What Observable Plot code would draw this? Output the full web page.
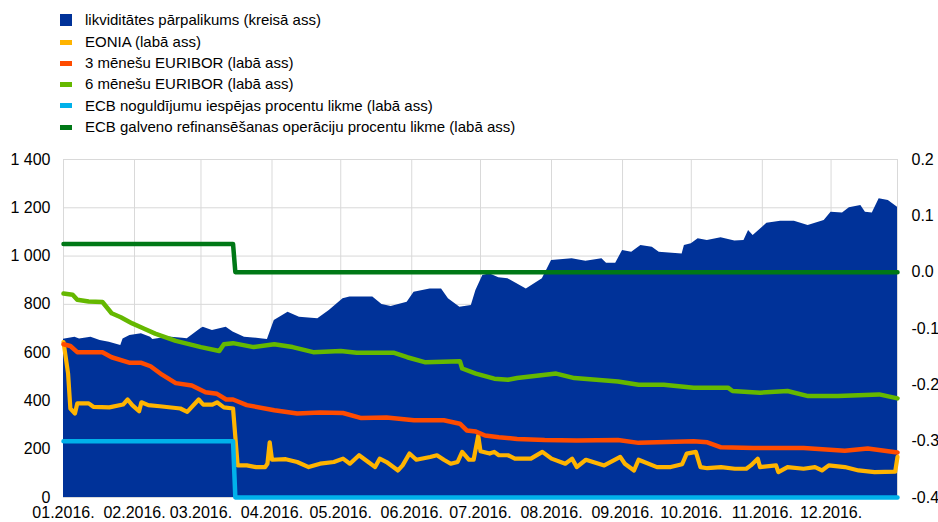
<!DOCTYPE html>
<html>
<head>
<meta charset="utf-8">
<script src="https://cdn.jsdelivr.net/npm/d3@7"></script>
<script src="https://cdn.jsdelivr.net/npm/@observablehq/plot@0.6"></script>
<style>
  body { margin: 0; background: #fff; font-family: "Liberation Sans", Arial, sans-serif; }
  #legend { position: relative; width: 938px; height: 140px; font-size: 15px; color: #000; }
  .row { position: absolute; left: 0; height: 18px; line-height: 18px; }
  .sw { position: absolute; left: 60px; width: 12px; }
  .lbl { position: absolute; left: 85px; white-space: nowrap; top: 0; }
</style>
</head>
<body>
<div id="legend"></div>
<div id="chart"></div>
<script>
// ---- data ----
const liqDates = ["2016-01-01","2016-01-06","2016-01-08","2016-01-13","2016-01-17","2016-01-21","2016-01-26","2016-01-27","2016-01-30","2016-02-04","2016-02-08","2016-02-09","2016-02-16","2016-02-22","2016-02-24","2016-03-01","2016-03-02","2016-03-06","2016-03-12","2016-03-15","2016-03-20","2016-03-28","2016-03-30","2016-04-02","2016-04-08","2016-04-13","2016-04-21","2016-04-26","2016-05-02","2016-05-05","2016-05-15","2016-05-19","2016-05-23","2016-05-30","2016-06-02","2016-06-09","2016-06-14","2016-06-17","2016-06-22","2016-06-27","2016-06-29","2016-07-02","2016-07-05","2016-07-09","2016-07-13","2016-07-21","2016-07-28","2016-08-01","2016-08-10","2016-08-16","2016-08-23","2016-08-25","2016-08-29","2016-09-01","2016-09-05","2016-09-09","2016-09-14","2016-09-17","2016-09-27","2016-09-28","2016-10-01","2016-10-04","2016-10-08","2016-10-14","2016-10-20","2016-10-24","2016-10-26","2016-10-28","2016-11-03","2016-11-09","2016-11-15","2016-11-21","2016-11-28","2016-12-01","2016-12-06","2016-12-09","2016-12-14","2016-12-16","2016-12-19","2016-12-22","2016-12-26","2016-12-30"];
const liqValues = [655,664,657,664,650,643,630,657,671,678,664,654,665,660,658,700,705,692,705,685,664,657,654,733,767,747,740,775,823,830,830,799,791,809,850,864,864,823,788,795,857,920,927,910,906,864,906,982,989,979,989,970,970,1023,1016,1044,1037,1016,1009,1044,1051,1072,1064,1076,1062,1064,1106,1085,1136,1144,1144,1127,1147,1182,1178,1200,1209,1182,1178,1237,1230,1202];

const eoniaDates = ["2016-01-01","2016-01-03","2016-01-04","2016-01-06","2016-01-07","2016-01-12","2016-01-14","2016-01-21","2016-01-27","2016-01-29","2016-01-31","2016-02-03","2016-02-04","2016-02-07","2016-02-12","2016-02-21","2016-02-24","2016-02-29","2016-03-02","2016-03-06","2016-03-08","2016-03-11","2016-03-15","2016-03-17","2016-03-21","2016-03-25","2016-03-29","2016-03-30","2016-03-31","2016-04-01","2016-04-07","2016-04-12","2016-04-17","2016-04-22","2016-04-28","2016-05-02","2016-05-05","2016-05-09","2016-05-13","2016-05-16","2016-05-18","2016-05-21","2016-05-26","2016-05-28","2016-05-31","2016-06-03","2016-06-09","2016-06-12","2016-06-15","2016-06-18","2016-06-21","2016-06-23","2016-06-26","2016-06-28","2016-06-30","2016-07-01","2016-07-05","2016-07-07","2016-07-09","2016-07-13","2016-07-16","2016-07-23","2016-07-28","2016-08-01","2016-08-07","2016-08-10","2016-08-12","2016-08-16","2016-08-24","2016-08-31","2016-09-02","2016-09-06","2016-09-08","2016-09-16","2016-09-22","2016-09-27","2016-09-29","2016-10-03","2016-10-05","2016-10-08","2016-10-14","2016-10-20","2016-10-25","2016-10-27","2016-10-30","2016-10-31","2016-11-07","2016-11-08","2016-11-12","2016-11-19","2016-11-24","2016-11-27","2016-11-30","2016-12-07","2016-12-13","2016-12-20","2016-12-29","2016-12-30"];
const eoniaValues = [-0.124,-0.180,-0.242,-0.251,-0.233,-0.233,-0.239,-0.240,-0.235,-0.226,-0.236,-0.247,-0.231,-0.236,-0.238,-0.242,-0.248,-0.226,-0.235,-0.235,-0.231,-0.240,-0.242,-0.343,-0.343,-0.346,-0.346,-0.340,-0.302,-0.333,-0.332,-0.337,-0.346,-0.340,-0.337,-0.331,-0.340,-0.325,-0.337,-0.346,-0.331,-0.337,-0.352,-0.343,-0.322,-0.333,-0.328,-0.325,-0.333,-0.340,-0.337,-0.319,-0.333,-0.333,-0.290,-0.318,-0.322,-0.319,-0.325,-0.325,-0.331,-0.331,-0.319,-0.331,-0.340,-0.331,-0.346,-0.333,-0.343,-0.328,-0.340,-0.352,-0.333,-0.346,-0.346,-0.341,-0.322,-0.319,-0.346,-0.348,-0.346,-0.349,-0.349,-0.343,-0.331,-0.346,-0.343,-0.355,-0.346,-0.349,-0.346,-0.352,-0.343,-0.346,-0.352,-0.355,-0.354,-0.328];

const eur3Dates = ["2016-01-01","2016-01-04","2016-01-07","2016-01-18","2016-01-22","2016-01-30","2016-02-04","2016-02-08","2016-02-13","2016-02-19","2016-02-26","2016-03-03","2016-03-08","2016-03-12","2016-03-15","2016-03-21","2016-04-02","2016-04-12","2016-04-22","2016-05-02","2016-05-10","2016-05-21","2016-06-02","2016-06-15","2016-06-22","2016-06-25","2016-06-29","2016-07-03","2016-07-09","2016-07-17","2016-07-29","2016-08-12","2016-08-30","2016-09-08","2016-10-02","2016-10-08","2016-10-14","2016-10-28","2016-11-19","2016-12-07","2016-12-17","2016-12-30"];
const eur3Values = [-0.128,-0.131,-0.142,-0.142,-0.151,-0.161,-0.161,-0.167,-0.182,-0.197,-0.201,-0.213,-0.216,-0.226,-0.226,-0.236,-0.245,-0.251,-0.249,-0.250,-0.259,-0.258,-0.263,-0.263,-0.269,-0.281,-0.283,-0.290,-0.293,-0.296,-0.298,-0.299,-0.298,-0.303,-0.300,-0.302,-0.311,-0.312,-0.312,-0.317,-0.313,-0.320];

const eur6Dates = ["2016-01-01","2016-01-05","2016-01-07","2016-01-12","2016-01-18","2016-01-22","2016-01-26","2016-01-31","2016-02-05","2016-02-10","2016-02-19","2016-03-01","2016-03-09","2016-03-11","2016-03-15","2016-03-24","2016-04-02","2016-04-10","2016-04-19","2016-05-01","2016-05-08","2016-05-24","2016-05-30","2016-06-07","2016-06-22","2016-06-23","2016-06-29","2016-07-07","2016-07-13","2016-07-17","2016-08-03","2016-08-11","2016-08-30","2016-09-08","2016-09-19","2016-10-02","2016-10-17","2016-10-19","2016-10-31","2016-11-12","2016-11-21","2016-12-04","2016-12-22","2016-12-30"];
const eur6Values = [-0.038,-0.040,-0.049,-0.052,-0.053,-0.073,-0.080,-0.091,-0.100,-0.109,-0.122,-0.133,-0.140,-0.128,-0.126,-0.133,-0.128,-0.133,-0.142,-0.140,-0.143,-0.143,-0.151,-0.160,-0.158,-0.171,-0.180,-0.189,-0.191,-0.188,-0.180,-0.188,-0.194,-0.200,-0.200,-0.205,-0.205,-0.211,-0.214,-0.211,-0.220,-0.220,-0.217,-0.224];

const rateDates = ["2016-01-01","2016-03-15","2016-03-16","2016-12-30"];
const dfValues  = [-0.30,-0.30,-0.40,-0.40];
const mroValues = [0.05,0.05,0.00,0.00];

const monthTicks = ["2016-01-01","2016-02-01","2016-03-01","2016-04-01","2016-05-01","2016-06-01","2016-07-01","2016-08-01","2016-09-01","2016-10-01","2016-11-01","2016-12-01"];
const leftTicks = [0,200,400,600,800,1000,1200,1400];
const rightTicks = [-0.4,-0.3,-0.2,-0.1,0.0,0.1,0.2];

const seriesNames = [
  "likviditātes pārpalikums (kreisā ass)",
  "EONIA (labā ass)",
  "3 mēnešu EURIBOR (labā ass)",
  "6 mēnešu EURIBOR (labā ass)",
  "ECB noguldījumu iespējas procentu likme (labā ass)",
  "ECB galveno refinansēšanas operāciju procentu likme (labā ass)"
];
const seriesColors = ["#003299","#FFB400","#FF4B00","#65B800","#00B1EA","#007816"];

// ---- helpers ----
const parse = s => new Date(s + "T00:00:00Z");
const endDate = parse("2016-12-30");
const rMin = -0.4, rMax = 0.2, lMax = 1400;
const toLeft = v => (v - rMin) / (rMax - rMin) * lMax;
const zip = (ds, vs) => ds.map((d, i) => ({date: parse(d), value: vs[i]}));

const liq = zip(liqDates, liqValues);
const eonia = zip(eoniaDates, eoniaValues);
const eur3 = zip(eur3Dates, eur3Values);
const eur6 = zip(eur6Dates, eur6Values);
const df = zip(rateDates, dfValues);
const mro = zip(rateDates, mroValues);

const fmtLeft = d => d >= 1000 ? Math.floor(d / 1000) + " " + String(d % 1000).padStart(3, "0") : String(d);

// ---- legend ----
const legend = document.getElementById("legend");
const centers = [20, 42, 63, 84, 105.5, 127];
seriesNames.forEach((name, i) => {
  const row = document.createElement("div");
  row.className = "row";
  row.style.top = (centers[i] - 9) + "px";
  row.style.width = "938px";
  const sw = document.createElement("div");
  sw.className = "sw";
  sw.style.background = seriesColors[i];
  if (i === 0) { sw.style.height = "12px"; sw.style.top = "3px"; }
  else { sw.style.height = "5px"; sw.style.top = "6.5px"; }
  const lbl = document.createElement("div");
  lbl.className = "lbl";
  lbl.textContent = name;
  row.appendChild(sw);
  row.appendChild(lbl);
  legend.appendChild(row);
});

// ---- chart ----
const lineOpts = (color, w) => ({x: "date", y: d => toLeft(d.value), stroke: color, strokeWidth: w, strokeLinejoin: "round", strokeLinecap: "round"});

const chart = Plot.plot({
  width: 938,
  height: 382,
  marginTop: 19,
  marginBottom: 25,
  marginLeft: 63,
  marginRight: 41,
  style: {fontFamily: "'Liberation Sans', Arial, sans-serif", fontSize: "16px", color: "#000", background: "#fff"},
  x: {type: "utc", domain: [parse("2016-01-01"), endDate]},
  y: {domain: [0, lMax]},
  marks: [
    Plot.gridX(monthTicks.map(parse).concat([endDate]), {stroke: "#d9d9d9", strokeOpacity: 1, strokeWidth: 1}),
    Plot.gridY(leftTicks, {stroke: "#d9d9d9", strokeOpacity: 1, strokeWidth: 1}),
    Plot.areaY(liq, {x: "date", y: "value", fill: seriesColors[0]}),
    Plot.line(eonia, lineOpts(seriesColors[1], 4.2)),
    Plot.line(eur3, lineOpts(seriesColors[2], 4.5)),
    Plot.line(eur6, lineOpts(seriesColors[3], 4.5)),
    Plot.line(df, lineOpts(seriesColors[4], 4.5)),
    Plot.line(mro, lineOpts(seriesColors[5], 4.5)),
    Plot.axisX(monthTicks.map(parse), {tickSize: 0, tickPadding: 9, tickFormat: d3.utcFormat("%m.%Y."), label: null}),
    Plot.axisY(leftTicks, {anchor: "left", tickSize: 0, tickPadding: 13, tickFormat: fmtLeft, label: null}),
    Plot.axisY(rightTicks, {anchor: "right", y: d => toLeft(d), tickSize: 0, tickPadding: 14, tickFormat: d => d.toFixed(1), label: null})
  ]
});
document.getElementById("chart").appendChild(chart);
</script>
</body>
</html>
